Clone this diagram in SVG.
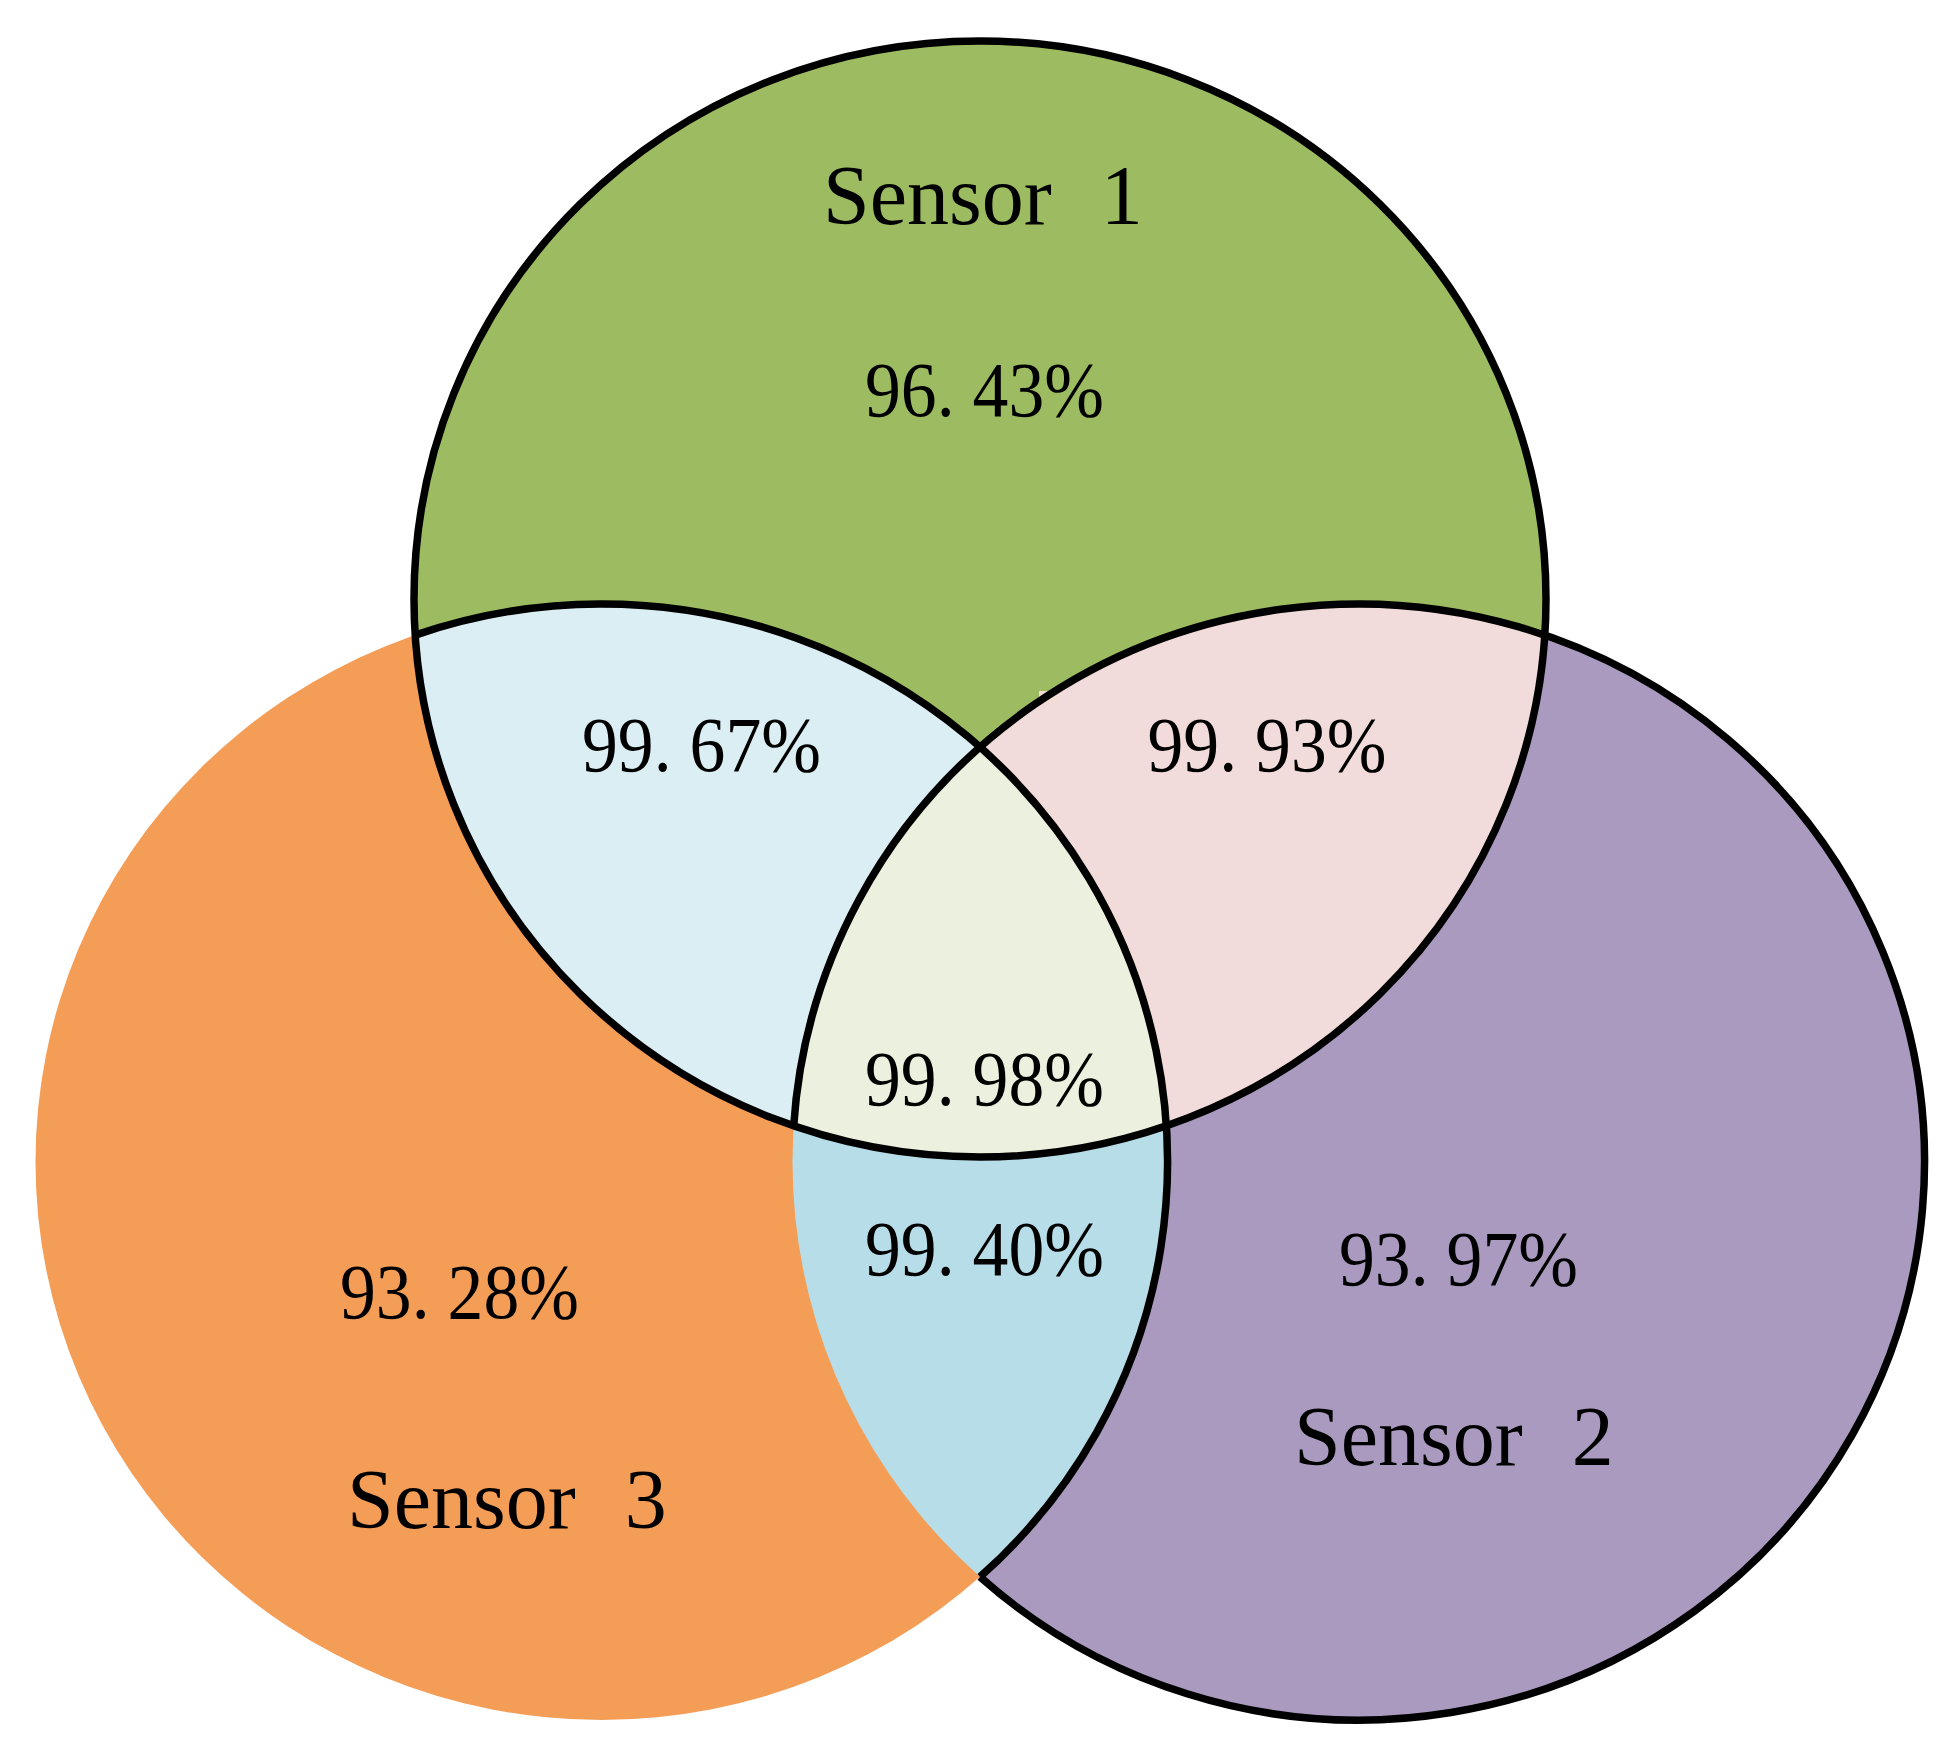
<svg xmlns="http://www.w3.org/2000/svg" width="1960" height="1755" viewBox="0 0 1960 1755">
<style>
.lbl{font-family:"Liberation Serif","DejaVu Serif",serif;font-size:84px;fill:#000}
.val{font-family:"Liberation Serif","DejaVu Serif",serif;font-size:78px;fill:#000;text-anchor:middle}
.ol{fill:none;stroke:#000;stroke-width:7.5}
</style>
<defs>
<clipPath id="clipG"><ellipse cx="980" cy="599" rx="566" ry="558"/></clipPath>
<clipPath id="clipO"><ellipse cx="601.5" cy="1162" rx="566" ry="558"/></clipPath>
</defs>
<rect width="1960" height="1755" fill="#fff"/>
<g id="sensor2">
<ellipse cx="1358.5" cy="1162" rx="566" ry="558" fill="#AA9ABF"/>
<text class="val" x="1458.5" y="1285" textLength="239" lengthAdjust="spacingAndGlyphs">93. 97%</text>
<text class="lbl" x="1294" y="1465" word-spacing="28">Sensor 2</text>
</g>
<g id="sensor3">
<ellipse cx="601.5" cy="1162" rx="566" ry="558" fill="#F49D57"/>
<text class="val" x="459.5" y="1318" textLength="239" lengthAdjust="spacingAndGlyphs">93. 28%</text>
<text class="lbl" x="347" y="1528" word-spacing="28">Sensor 3</text>
</g>
<g id="sensor1">
<ellipse cx="980" cy="599" rx="566" ry="558" fill="#9DBB61"/>
<text class="lbl" x="823" y="224" word-spacing="28">Sensor 1</text>
<text class="val" x="984.5" y="416" textLength="239" lengthAdjust="spacingAndGlyphs">96. 43%</text>
</g>
<g id="overlap13">
<g clip-path="url(#clipG)"><ellipse cx="601.5" cy="1162" rx="566" ry="558" fill="#DBEEF4"/></g>
<text class="val" x="701.5" y="771" textLength="239" lengthAdjust="spacingAndGlyphs">99. 67%</text>
</g>
<g id="overlap12">
<g clip-path="url(#clipG)"><ellipse cx="1358.5" cy="1162" rx="566" ry="558" fill="#F2DCDB"/></g>
<rect x="1039" y="691" width="19" height="12" fill="#F1DDD4"/>
<text class="val" x="1267" y="771" textLength="239" lengthAdjust="spacingAndGlyphs">99. 93%</text>
</g>
<g id="overlap23">
<g clip-path="url(#clipO)"><ellipse cx="1358.5" cy="1162" rx="566" ry="558" fill="#B7DDE8"/></g>
<text class="val" x="984.5" y="1275" textLength="239" lengthAdjust="spacingAndGlyphs">99. 40%</text>
</g>
<g id="overlap123">
<g clip-path="url(#clipG)"><g clip-path="url(#clipO)"><ellipse cx="1358.5" cy="1162" rx="566" ry="558" fill="#EBF1DE"/></g></g>
<text class="val" x="984.5" y="1105" textLength="239" lengthAdjust="spacingAndGlyphs">99. 98%</text>
</g>
<g id="connectors">
<ellipse class="ol" cx="980" cy="599" rx="566" ry="558"/>
<path class="ol" d="M 415.2 635.1 A 566 558 0 0 1 980 1576.9"/>
<path class="ol" d="M 793.7 1125.9 A 566 558 0 1 1 980 1576.9"/>
</g>
</svg>
